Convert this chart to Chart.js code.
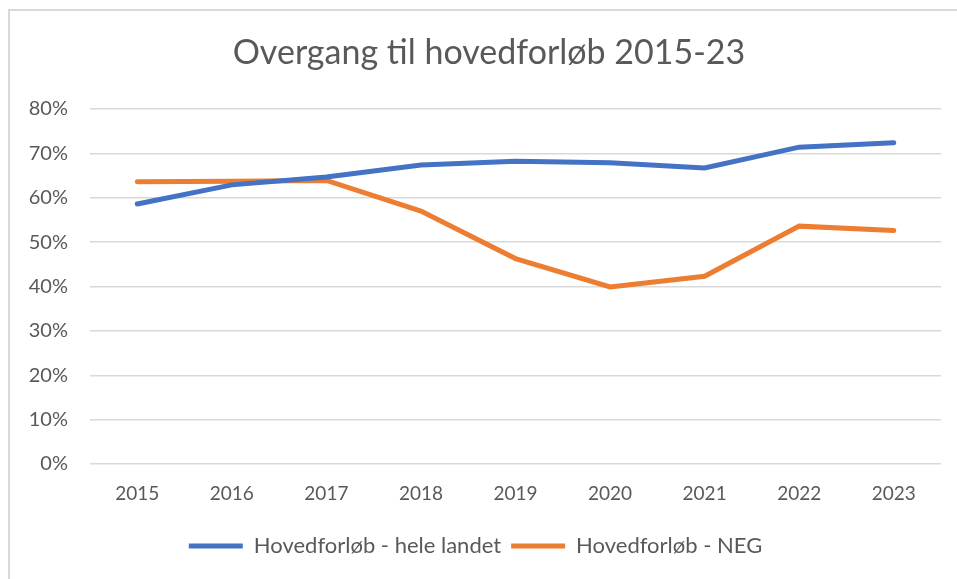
<!DOCTYPE html>
<html>
<head>
<meta charset="utf-8">
<script src="https://cdn.jsdelivr.net/npm/chart.js@4.4.0/dist/chart.umd.min.js"></script>
<style>
  html, body { margin: 0; padding: 0; background: #fff; overflow: hidden; }
  #frame { position: absolute; left: 8px; top: 9px; width: 960px; height: 580px;
           border: 2px solid #d9d9d9; box-sizing: border-box; }
  #wrap { position: absolute; left: 0; top: 0; width: 957px; height: 579px; }
</style>
</head>
<body>
<div id="frame"></div>
<div id="wrap"><canvas id="myChart" width="957" height="579"></canvas></div>
<script>
// Data
var years = ["2015", "2016", "2017", "2018", "2019", "2020", "2021", "2022", "2023"];
var heleLandet = [0.586, 0.629, 0.647, 0.674, 0.682, 0.679, 0.667, 0.714, 0.724];
var neg = [0.636, 0.637, 0.639, 0.570, 0.463, 0.399, 0.423, 0.536, 0.526];
var yTicks = [0, 0.1, 0.2, 0.3, 0.4, 0.5, 0.6, 0.7, 0.8];
var titleText = "Overgang til hovedforløb 2015-23";

var grey = "#595959";
var font = "Lato, 'Open Sans', sans-serif";

// title sits a bit right of the canvas centre in the original, so draw it by hand
var titlePlugin = {
  id: "offsetTitle",
  afterDraw: function (chart) {
    var c = chart.ctx;
    c.save();
    c.fillStyle = grey;
    c.font = "34px " + font;
    c.textAlign = "center";
    c.textBaseline = "middle";
    c.fillText(titleText, 489, 53);
    c.restore();
  }
};

var ctx = document.getElementById("myChart").getContext("2d");
var chart = new Chart(ctx, {
  type: "line",
  data: {
    labels: years,
    datasets: [
      {
        label: "Hovedforløb - hele landet",
        data: heleLandet,
        borderColor: "#4472C4",
        backgroundColor: "#4472C4",
        borderWidth: 5,
        borderCapStyle: "round",
        pointRadius: 0,
        tension: 0
      },
      {
        label: "Hovedforløb - NEG",
        data: neg,
        borderColor: "#ED7D31",
        backgroundColor: "#ED7D31",
        borderWidth: 5,
        borderCapStyle: "round",
        pointRadius: 0,
        tension: 0
      }
    ]
  },
  plugins: [titlePlugin],
  options: {
    responsive: false,
    animation: false,
    layout: { padding: { left: 10, right: 16, top: 109, bottom: 12 } },
    plugins: {
      title: { display: false },
      legend: {
        position: "bottom",
        labels: {
          usePointStyle: true,
          pointStyle: "line",
          pointStyleWidth: 54,
          color: grey,
          font: { family: font, size: 22 },
          padding: 10
        }
      },
      tooltip: { enabled: false }
    },
    scales: {
      x: {
        offset: true,
        grid: { display: false },
        border: { display: false },
        ticks: { color: grey, font: { family: font, size: 19 }, padding: 10 },
        afterFit: function (s) { s.height = 61; }
      },
      y: {
        min: 0,
        max: 0.8,
        afterBuildTicks: function (s) { s.ticks = yTicks.map(function (v) { return { value: v }; }); },
        grid: { color: "#d9d9d9", lineWidth: 1.5, drawTicks: false },
        border: { display: false },
        ticks: {
          color: grey,
          font: { family: font, size: 20 },
          padding: 22,
          callback: function (v) { return Math.round(v * 100) + "%"; }
        },
        afterFit: function (s) { s.width = 80; }
      }
    }
  }
});
</script>
</body>
</html>
